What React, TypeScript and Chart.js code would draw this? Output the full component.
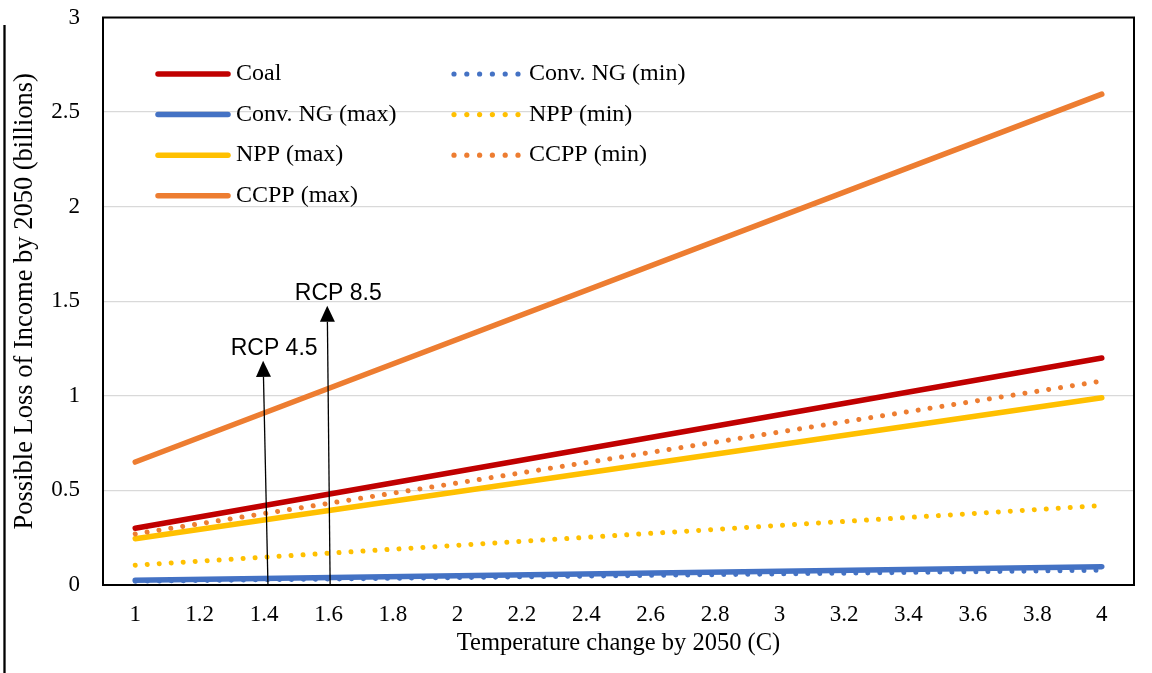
import React, { useEffect, useRef } from "react";
import { Chart, registerables } from "chart.js";

Chart.register(...registerables);

// ---------- data ----------
const temps = [1, 4];
const seriesNames = [
  "Coal",
  "Conv. NG (max)",
  "NPP (max)",
  "CCPP (max)",
  "Conv. NG (min)",
  "NPP (min)",
  "CCPP (min)",
];
const coal = [0.3, 1.2];
const ngMax = [0.025, 0.097];
const nppMax = [0.245, 0.99];
const ccppMax = [0.65, 2.595];
const ngMin = [0.02, 0.078];
const nppMin = [0.105, 0.42];
const ccppMin = [0.27, 1.078];
const seriesValues = [coal, ngMax, nppMax, ccppMax, ngMin, nppMin, ccppMin];

const xTicks = [1, 1.2, 1.4, 1.6, 1.8, 2, 2.2, 2.4, 2.6, 2.8, 3, 3.2, 3.4, 3.6, 3.8, 4];
const yTicks = [0, 0.5, 1, 1.5, 2, 2.5, 3];

const rcpLabels = ["RCP 4.5", "RCP 8.5"];
const rcpBaseX = [1.412, 1.605];
const rcpTipX = [1.397, 1.596];
const rcpTipY = [1.185, 1.476];

// ---------- styles ----------
const seriesColors = ["#C00000", "#4472C4", "#FFC000", "#ED7D31", "#4472C4", "#FFC000", "#ED7D31"];
const seriesDotted = [false, false, false, false, true, true, true];
const SERIF = "'Liberation Serif', 'Times New Roman', serif";
const SANS = "'Liberation Sans', Arial, sans-serif";

const decorPlugin = {
  id: "decor",
  afterDatasetsDraw(chart: any) {
    const { ctx, chartArea: a, scales } = chart;
    const xs = scales.x;
    const ys = scales.y;
    ctx.save();
    // plot border
    ctx.strokeStyle = "#000";
    ctx.lineWidth = 2;
    ctx.strokeRect(a.left, a.top, a.right - a.left, a.bottom - a.top);

    // arrows
    for (let i = 0; i < rcpLabels.length; i++) {
      const bx = xs.getPixelForValue(rcpBaseX[i]);
      const by = ys.getPixelForValue(0);
      const tx = xs.getPixelForValue(rcpTipX[i]);
      const ty = ys.getPixelForValue(rcpTipY[i]);
      const headH = 16;
      const ang = Math.atan2(ty - by, tx - bx);
      const hx = tx - headH * Math.cos(ang);
      const hy = ty - headH * Math.sin(ang);
      ctx.strokeStyle = "#000";
      ctx.lineWidth = 1.3;
      ctx.beginPath();
      ctx.moveTo(bx, by);
      ctx.lineTo(hx, hy);
      ctx.stroke();
      const px = -Math.sin(ang);
      const py = Math.cos(ang);
      const hw = 7.5;
      ctx.fillStyle = "#000";
      ctx.beginPath();
      ctx.moveTo(tx, ty);
      ctx.lineTo(hx + px * hw, hy + py * hw);
      ctx.lineTo(hx - px * hw, hy - py * hw);
      ctx.closePath();
      ctx.fill();
      ctx.font = `23px ${SANS}`;
      ctx.textAlign = "center";
      ctx.textBaseline = "middle";
      ctx.fillText(rcpLabels[i], tx + 11, ty - 12);
    }

    // legend
    const cols = [
      { idx: [0, 1, 2, 3], x0: 158, x1: 228, tx: 236 },
      { idx: [4, 5, 6], x0: 454, x1: 518, tx: 529 },
    ];
    ctx.font = `24px ${SERIF}`;
    ctx.textAlign = "left";
    ctx.textBaseline = "middle";
    cols.forEach((c) => {
      c.idx.forEach((si, r) => {
        const y = 74 + r * 40.6;
        const color = seriesColors[si];
        if (seriesDotted[si]) {
          ctx.fillStyle = color;
          const n = 6;
          for (let k = 0; k < n; k++) {
            const x = c.x0 + ((c.x1 - c.x0) * k) / (n - 1);
            ctx.beginPath();
            ctx.arc(x, y, 2.6, 0, Math.PI * 2);
            ctx.fill();
          }
        } else {
          ctx.strokeStyle = color;
          ctx.lineWidth = 5.5;
          ctx.lineCap = "round";
          ctx.beginPath();
          ctx.moveTo(c.x0, y);
          ctx.lineTo(c.x1, y);
          ctx.stroke();
        }
        ctx.fillStyle = "#000";
        ctx.fillText(seriesNames[si], c.tx, y);
      });
    });
    ctx.restore();
  },
  afterDraw(chart: any) {
    const { ctx } = chart;
    ctx.save();
    ctx.strokeStyle = "#000";
    ctx.lineWidth = 2.3;
    ctx.beginPath();
    ctx.moveTo(4.5, 25);
    ctx.lineTo(4.5, 673);
    ctx.stroke();
    ctx.restore();
  },
};

export default function App() {
  const ref = useRef<HTMLCanvasElement | null>(null);

  useEffect(() => {
    if (!ref.current) return;
    const datasets = seriesNames.map((name, i) => ({
      label: name,
      data: temps.map((t, j) => ({ x: t, y: seriesValues[i][j] })),
      borderColor: seriesColors[i],
      backgroundColor: seriesColors[i],
      borderWidth: seriesDotted[i] ? 5 : 5.5,
      borderDash: seriesDotted[i] ? [0.01, 12] : [],
      borderCapStyle: "round" as const,
      pointRadius: 0,
      fill: false,
      tension: 0,
      order: seriesNames.length - i,
    }));

    const chart = new Chart(ref.current, {
      type: "line",
      data: { datasets },
      plugins: [decorPlugin],
      options: {
        animation: false,
        responsive: false,
        layout: { padding: { top: 17.5, right: 18, left: 0, bottom: 0 } },
        plugins: { legend: { display: false }, tooltip: { enabled: false } },
        scales: {
          x: {
            type: "linear",
            min: 0.9,
            max: 4.1,
            afterBuildTicks: (s: any) => {
              s.ticks = xTicks.map((v) => ({ value: v }));
            },
            afterFit: (s: any) => {
              s.height = 88;
              s.paddingLeft = 0;
              s.paddingRight = 0;
            },
            grid: { display: false, drawTicks: false },
            border: { display: false },
            ticks: {
              padding: 16,
              maxRotation: 0,
              autoSkip: false,
              color: "#000",
              font: { family: SERIF, size: 23 },
              callback: (v: any) => String(v),
            },
            title: {
              display: true,
              text: "Temperature change by 2050 (C)",
              color: "#000",
              font: { family: SERIF, size: 24.5 },
              padding: { top: 0, bottom: 15 },
            },
          },
          y: {
            type: "linear",
            min: 0,
            max: 3,
            afterBuildTicks: (s: any) => {
              s.ticks = yTicks.map((v) => ({ value: v }));
            },
            afterFit: (s: any) => {
              s.width = 103;
              s.paddingTop = 0;
              s.paddingBottom = 0;
            },
            grid: { color: "#D9D9D9", lineWidth: 1.2, drawTicks: false },
            border: { display: false },
            ticks: {
              padding: 23,
              color: "#000",
              font: { family: SERIF, size: 23 },
              callback: (v: any) => String(v),
            },
            title: {
              display: true,
              text: "Possible Loss of Income by 2050 (billions)",
              color: "#000",
              font: { family: SERIF, size: 26.5 },
              padding: { top: 9, bottom: 0 },
            },
          },
        },
      },
    });
    return () => chart.destroy();
  }, []);

  return (
    <div style={{ position: "fixed", left: 0, top: 0, width: 1152, height: 673, background: "#fff" }}>
      <canvas ref={ref} width={1152} height={673} style={{ display: "block" }} />
    </div>
  );
}
